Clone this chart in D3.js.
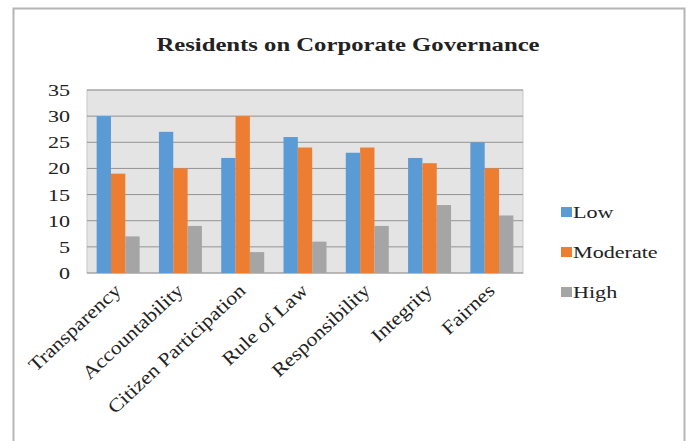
<!DOCTYPE html>
<html>
<head>
<meta charset="utf-8">
<script src="https://cdn.jsdelivr.net/npm/d3@7"></script>
<style>
  body { margin: 0; background: #fff; }
  text { font-family: "Liberation Serif", "Times New Roman", serif; fill: #222; }
</style>
</head>
<body>
<svg id="chart" width="690" height="441"></svg>
<script>
var width = 690;
var height = 441;

var categories = ["Transparency", "Accountability", "Citizen Participation", "Rule of Law",
  "Responsibility", "Integrity", "Fairnes"];
var seriesNames = ["Low", "Moderate", "High"];
var low = [30, 27, 22, 26, 23, 22, 25];
var moderate = [19, 20, 30, 24, 24, 21, 20];
var high = [7, 9, 4, 6, 9, 13, 11];
var yTicks = [0, 5, 10, 15, 20, 25, 30, 35];
var colors = ["#5b9bd5", "#ed7d31", "#a5a5a5"];

var series = [low, moderate, high];
var rows = categories.map(function(c, i) {
  return { cat: c, values: series.map(function(s, j) { return { key: seriesNames[j], value: s[i] }; }) };
});

var plot = { left: 87, right: 523, top: 90, bottom: 273 };
var stretch = 1.3; // the reference text is drawn wide
var svg = d3.select("#chart");

// outer chart frame
svg.append("rect")
  .attr("x", 13.5).attr("y", 8.5)
  .attr("width", 671).attr("height", 440)
  .attr("fill", "#fff").attr("stroke", "#b5b5b5").attr("stroke-width", 2);

var x0 = d3.scaleBand().domain(categories)
  .range([plot.left, plot.right]).paddingInner(0.31).paddingOuter(0.155);
var x1 = d3.scaleBand().domain(seriesNames).range([0, x0.bandwidth()]);
var y = d3.scaleLinear().domain([0, 35]).range([plot.bottom, plot.top]);

// plot background
svg.append("rect")
  .attr("x", plot.left).attr("y", plot.top)
  .attr("width", plot.right - plot.left).attr("height", plot.bottom - plot.top)
  .attr("fill", "#e4e4e4").attr("stroke", "#c8c8c8");

// gridlines
svg.append("g").selectAll("line").data(yTicks).enter().append("line")
  .attr("x1", plot.left).attr("x2", plot.right)
  .attr("y1", function(d) { return y(d); }).attr("y2", function(d) { return y(d); })
  .attr("stroke", "#939393").attr("stroke-width", 1);

// y axis labels
svg.append("g").selectAll("text").data(yTicks).enter().append("text")
  .attr("transform", function(d) { return "translate(70," + y(d) + ") scale(" + stretch + ",1)"; })
  .attr("text-anchor", "end").attr("dy", "0.35em")
  .attr("font-size", "17px")
  .text(function(d) { return d; });

// bars
var groups = svg.append("g").selectAll("g").data(rows).enter().append("g")
  .attr("transform", function(d) { return "translate(" + x0(d.cat) + ",0)"; });
groups.selectAll("rect").data(function(d) { return d.values; }).enter().append("rect")
  .attr("x", function(d) { return x1(d.key); })
  .attr("width", x1.bandwidth())
  .attr("y", function(d) { return y(d.value); })
  .attr("height", function(d) { return y(0) - y(d.value); })
  .attr("fill", function(d, i) { return colors[i]; });

// x axis labels
var xAxis = svg.append("g").attr("transform", "translate(0," + plot.bottom + ")")
  .call(d3.axisBottom(x0).tickSize(0).tickPadding(0));
xAxis.select(".domain").remove();
xAxis.selectAll("text")
  .attr("font-size", "19px").style("font-family", "Liberation Serif, serif").attr("fill", "#222")
  .attr("text-anchor", "end")
  .attr("y", 0).attr("dy", "0")
  .attr("transform", "translate(4,19) rotate(-43) scale(1.15,1)");

// title
svg.append("text")
  .attr("transform", "translate(348,51) scale(" + stretch + ",1)")
  .attr("text-anchor", "middle")
  .attr("font-size", "19px").attr("font-weight", "bold")
  .text("Residents on Corporate Governance");

// legend
var legend = svg.append("g").selectAll("g").data(seriesNames).enter().append("g")
  .attr("transform", function(d, i) { return "translate(561," + (212 + i * 40) + ")"; });
legend.append("rect").attr("x", 0).attr("y", -5).attr("width", 11).attr("height", 10)
  .attr("fill", function(d, i) { return colors[i]; });
legend.append("text").attr("transform", "translate(12,0) scale(" + stretch + ",1)")
  .attr("dy", "0.35em")
  .attr("font-size", "17px").text(function(d) { return d; });
</script>
</body>
</html>
